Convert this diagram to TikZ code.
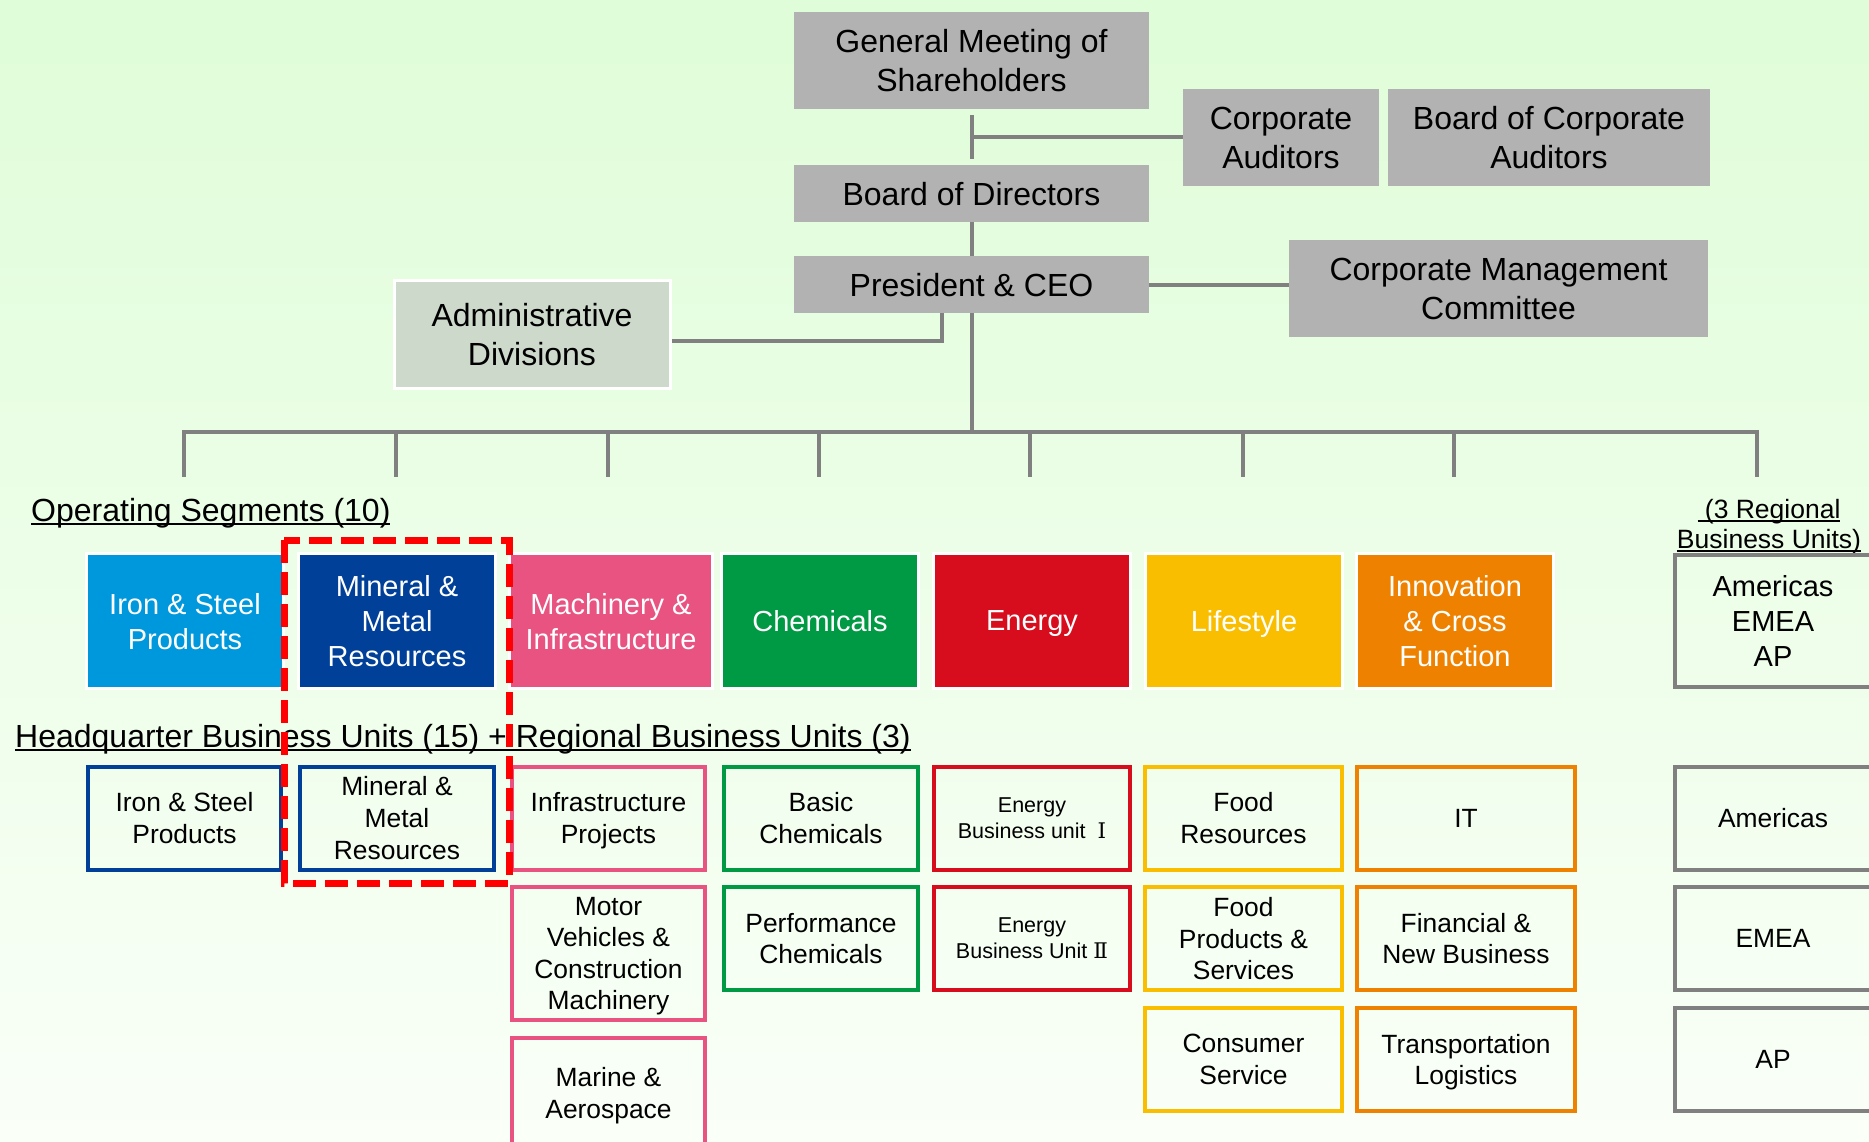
\documentclass[tikz,border=0pt]{standalone}
\usepackage{fontspec}
\setmainfont{Liberation Sans}
\newfontfamily\numfont{DejaVu Serif}
\usetikzlibrary{calc}

\definecolor{bgtop}{RGB}{223,253,216}
\definecolor{bgbot}{RGB}{250,255,248}
\definecolor{boxgray}{RGB}{178,178,178}
\definecolor{linegray}{RGB}{128,128,128}
\definecolor{admfill}{RGB}{205,217,203}
\definecolor{cIron}{RGB}{0,152,221}
\definecolor{cMin}{RGB}{0,64,152}
\definecolor{cMach}{RGB}{232,83,130}
\definecolor{cChem}{RGB}{0,153,68}
\definecolor{cEne}{RGB}{215,12,28}
\definecolor{cLife}{RGB}{250,190,0}
\definecolor{cInno}{RGB}{238,130,0}
\definecolor{cHL}{RGB}{255,0,0}

\newcommand{\fbig}{\fontsize{32}{39}\selectfont}
\newcommand{\fseg}{\fontsize{29}{35}\selectfont}
\newcommand{\funit}{\fontsize{26.4}{31.6}\selectfont}
\newcommand{\fsmall}{\fontsize{21.5}{26}\selectfont}
\newcommand{\freg}{\fontsize{26.5}{31}\selectfont}
\newsavebox{\ulbox}
\newcommand{\myul}[1]{\sbox{\ulbox}{#1}\rlap{\rule[-4pt]{\wd\ulbox}{2.2pt}}\usebox{\ulbox}}

\tikzset{
  gbox/.style={fill=boxgray, draw=none, inner sep=0pt, align=center, font=\fbig, text=black, text depth=0pt},
  seg/.style={fill=#1, draw=white, line width=3pt, inner sep=0pt, align=center, font=\fseg,
              text=white, minimum width=197pt, minimum height=135pt, text depth=0pt},
  hqunit/.style={draw=#1, line width=4pt, inner sep=0pt, align=center, font=\funit, text=black,
              minimum width=194pt, minimum height=103pt, text depth=0pt},
  conn/.style={draw=linegray, line width=4pt},
  lbl/.style={inner sep=0pt, font=\fbig, text=black},
}

\begin{document}
\begin{tikzpicture}[x=1pt,y=-1pt]
\useasboundingbox (0,0) rectangle (1869,1141);
\clip (0,0) rectangle (1869,1141);
\shade[top color=bgtop, bottom color=bgbot] (0,0) rectangle (1869,1141);

% top governance boxes
\node[gbox, minimum width=355pt, minimum height=97pt] (gm) at (971.5,60.5) {General Meeting of\\Shareholders};
\node[gbox, minimum width=355pt, minimum height=57pt] (bod) at (971.5,193.5) {Board of Directors};
\node[gbox, minimum width=355pt, minimum height=57pt] (pres) at (971.5,284.5) {President \& CEO};
\node[gbox, minimum width=196pt, minimum height=97pt] (ca) at (1281,137.5) {Corporate\\Auditors};
\node[gbox, minimum width=322pt, minimum height=97pt] (bca) at (1549,137.5) {Board of Corporate\\Auditors};
\node[gbox, minimum width=419pt, minimum height=97pt] (cmc) at (1498.5,288.5) {Corporate Management\\Committee};
\node[fill=admfill, draw=white, line width=3pt, inner sep=0pt, align=center, font=\fbig, text depth=0pt,
      minimum width=276pt, minimum height=108pt] (adm) at (532,334) {Administrative\\Divisions};

% connectors
\draw[conn, shorten <=6pt, shorten >=6pt] (gm.south) -- (bod.north);
\coordinate (j1) at ($(gm.south)!0.5!(bod.north)$);
\draw[conn] (j1) -- (j1 -| ca.west);
\draw[conn] (bod.south) -- (pres.north);
\draw[conn] (pres.east) -- (pres.east -| cmc.west);
\draw[conn] ([yshift=-7pt]adm.east) -| ([xshift=-30pt]pres.south);
\coordinate (bus) at (971.5,432);
\draw[conn] (pres.south) -- (bus);
\foreach \x [count=\i] in {184,396,608,819,1030,1243,1454,1757}
  \coordinate (drop\i) at (\x,477);
\draw[conn] (drop1) -- (drop1 |- bus) -- (drop8 |- bus) -- (drop8);
\foreach \i in {2,...,7}
  \draw[conn] (drop\i |- bus) -- (drop\i);

% labels
\node[lbl, anchor=base west] (opseg) at (31,521) {\myul{Operating Segments (10)}};
\node[lbl, anchor=base west] (hqlbl) at (15,747) {\myul{Headquarter Business Units (15) + Regional Business Units (3)}};
\node[inner sep=0pt, font=\freg, anchor=base] (reg1) at (1769,518) {\myul{\ (3 Regional}};
\node[inner sep=0pt, font=\freg, anchor=base] (reg2) at (1769,548) {\myul{Business Units)}};

% operating segments
\node[seg=cIron] (sIron) at (185,621) {Iron \& Steel\\Products};
\node[seg=cMin] (sMin) at (397,621) {Mineral \&\\Metal\\Resources};
\node[seg=cMach, minimum width=203pt] (sMach) at (611,621) {Machinery \&\\Infrastructure};
\node[seg=cChem] (sChem) at (820,621) {Chemicals};
\node[seg=cEne] (sEne) at (1032,621) {Energy};
\node[seg=cLife] (sLife) at (1244,621) {Lifestyle};
\node[seg=cInno] (sInno) at (1455,621) {Innovation\\\& Cross\\Function};
\node[hqunit=linegray, font=\fseg, minimum width=196pt, minimum height=132pt] (sReg) at (1773,621) {Americas\\EMEA\\AP};

% business units
\node[hqunit=cMin, minimum width=193pt] (uIron) at (184.5,818) {Iron \& Steel\\Products};
\node[hqunit=cMin] (uMin) at (397,818) {Mineral \&\\Metal\\Resources};
\node[hqunit=cMach, minimum width=193pt] (uInfra) at (608.5,818) {Infrastructure\\Projects};
\node[hqunit=cMach, minimum width=193pt, minimum height=133pt] (uMotor) at (608.5,953.5) {Motor\\Vehicles \&\\Construction\\Machinery};
\node[hqunit=cMach, minimum width=193pt, minimum height=110pt] (uMarine) at (608.5,1093) {Marine \&\\Aerospace};
\node[hqunit=cChem] (uBasic) at (821,818) {Basic\\Chemicals};
\node[hqunit=cChem] (uPerf) at (821,938.5) {Performance\\Chemicals};
\node[hqunit=cEne, font=\fsmall, minimum width=196pt] (uEn1) at (1032,818) {Energy\\Business unit~~{\numfont Ⅰ}};
\node[hqunit=cEne, font=\fsmall, minimum width=196pt] (uEn2) at (1032,938.5) {Energy\\Business Unit~{\numfont Ⅱ}};
\node[hqunit=cLife, minimum width=197pt] (uFoodR) at (1243.5,818) {Food\\Resources};
\node[hqunit=cLife, minimum width=197pt] (uFoodP) at (1243.5,938.5) {Food\\Products \&\\Services};
\node[hqunit=cLife, minimum width=197pt] (uCons) at (1243.5,1059.5) {Consumer\\Service};
\node[hqunit=cInno, minimum width=218pt] (uIT) at (1466,818) {IT};
\node[hqunit=cInno, minimum width=218pt] (uFin) at (1466,938.5) {Financial \&\\New Business};
\node[hqunit=cInno, minimum width=218pt] (uTrans) at (1466,1059.5) {Transportation\\Logistics};
\node[hqunit=linegray, minimum width=196pt] (uAm) at (1773,818) {Americas};
\node[hqunit=linegray, minimum width=196pt] (uEMEA) at (1773,938.5) {EMEA};
\node[hqunit=linegray, minimum width=196pt] (uAP) at (1773,1059.5) {AP};

% highlight
\draw[cHL, line width=7pt, dash pattern=on 23pt off 9pt] (284,540) rectangle (509,883);
\end{tikzpicture}
\end{document}
